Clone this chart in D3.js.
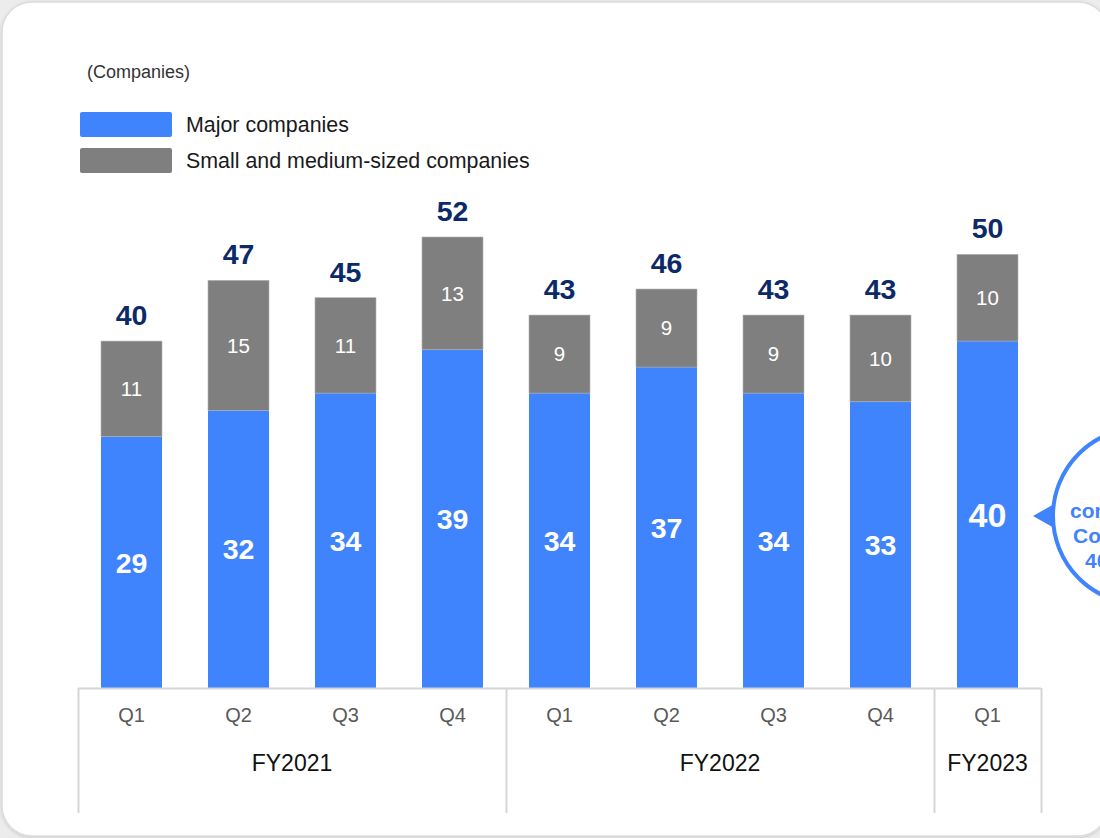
<!DOCTYPE html>
<html>
<head>
<meta charset="utf-8">
<script src="https://cdn.jsdelivr.net/npm/d3@7"></script>
<style>
  html, body { margin: 0; padding: 0; background: #ececec; }
  svg { display: block; font-family: "Liberation Sans", Arial, sans-serif; }
</style>
</head>
<body>
<svg id="chart" width="1100" height="838"></svg>
<script>
// Quarterly counts of companies, split by size
const quarters = ["Q1", "Q2", "Q3", "Q4", "Q1", "Q2", "Q3", "Q4", "Q1"];
const fiscalYears = ["FY2021", "FY2021", "FY2021", "FY2021", "FY2022", "FY2022", "FY2022", "FY2022", "FY2023"];
const majorCompanies = [29, 32, 34, 39, 34, 37, 34, 33, 40];
const smallMediumCompanies = [11, 15, 11, 13, 9, 9, 9, 10, 10];
const totals = [40, 47, 45, 52, 43, 46, 43, 43, 50];
const yearGroups = ["FY2021", "FY2022", "FY2023"];
const seriesNames = ["Major companies", "Small and medium-sized companies"];
const calloutLines = ["companies", "Companies", "40 companies"];

const BLUE = "#3f84fc", GRAY = "#7f7f7f", NAVY = "#0c2a68", AXIS = "#d6d6d6";

const svg = d3.select("#chart");

// card background
const defs = svg.append("defs");
const f = defs.append("filter").attr("id", "shadow").attr("x", "-5%").attr("y", "-5%").attr("width", "110%").attr("height", "110%");
f.append("feDropShadow").attr("dx", 0).attr("dy", 1).attr("stdDeviation", 1.5).attr("flood-color", "#000").attr("flood-opacity", 0.15);
svg.append("rect").attr("x", 2).attr("y", 2).attr("width", 1106).attr("height", 834)
  .attr("rx", 30).attr("fill", "#fff").attr("stroke", "#dcdcdc").attr("stroke-width", 1.5)
  .attr("filter", "url(#shadow)");

const idx = d3.range(quarters.length);
const x = d3.scaleBand().domain(idx).range([78, 1041]).paddingInner(0.43).paddingOuter(0.215);
const y = d3.scaleLinear().domain([0, 52]).range([688, 237]);

// unit label
svg.append("text").attr("x", 87).attr("y", 78).attr("font-size", 18).attr("fill", "#333").text("(Companies)");

// legend
const legend = svg.append("g");
[BLUE, GRAY].forEach((c, i) => {
  legend.append("rect").attr("x", 80).attr("y", 112 + i * 36).attr("width", 92).attr("height", 25)
    .attr("rx", 2).attr("fill", c);
  legend.append("text").attr("x", 186).attr("y", 125 + i * 36).attr("dy", "0.35em")
    .attr("font-size", 21.4).attr("fill", "#1a1a1a").text(seriesNames[i]);
});

// stacked bars
const bars = svg.append("g");
idx.forEach(i => {
  const bx = x(i), bw = x.bandwidth();
  const m = majorCompanies[i], s = smallMediumCompanies[i];
  bars.append("rect").attr("x", bx).attr("width", bw)
    .attr("y", y(m)).attr("height", y(0) - y(m)).attr("fill", BLUE);
  bars.append("rect").attr("x", bx).attr("width", bw)
    .attr("y", y(m + s)).attr("height", y(m) - y(m + s)).attr("fill", GRAY)
    .attr("stroke", "#b0b0b0").attr("stroke-width", 0.6);
  const cx = bx + bw / 2;
  const last = i === quarters.length - 1;
  bars.append("text").attr("x", cx).attr("y", (y(m) + y(0)) / 2).attr("dy", "0.36em")
    .attr("text-anchor", "middle").attr("font-weight", "bold").attr("font-size", last ? 34 : 28.5)
    .attr("fill", "#fff").text(m);
  bars.append("text").attr("x", cx).attr("y", (y(m) + y(m + s)) / 2).attr("dy", "0.36em")
    .attr("text-anchor", "middle").attr("font-size", 20.5).attr("fill", "#fff").text(s);
  bars.append("text").attr("x", cx).attr("y", y(totals[i]) - 16)
    .attr("text-anchor", "middle").attr("font-weight", "bold").attr("font-size", 28.5)
    .attr("fill", NAVY).text(totals[i]);
});

// category axis with fiscal-year groups
const axis = svg.append("g");
const step = x.step();
const x0 = 78;
axis.append("line").attr("x1", x0).attr("x2", x0 + step * quarters.length)
  .attr("y1", 688.5).attr("y2", 688.5).attr("stroke", AXIS).attr("stroke-width", 2);
idx.forEach(i => {
  axis.append("text").attr("x", x(i) + x.bandwidth() / 2).attr("y", 715).attr("dy", "0.35em")
    .attr("text-anchor", "middle").attr("font-size", 20).attr("fill", "#595959").text(quarters[i]);
});
yearGroups.forEach(fy => {
  const members = idx.filter(i => fiscalYears[i] === fy);
  const left = x0 + step * members[0];
  const right = x0 + step * (members[members.length - 1] + 1);
  axis.append("text").attr("x", (left + right) / 2).attr("y", 763).attr("dy", "0.35em")
    .attr("text-anchor", "middle").attr("font-size", 23).attr("fill", "#111").text(fy);
});
const boundaries = [0];
yearGroups.forEach(fy => boundaries.push(d3.max(idx.filter(i => fiscalYears[i] === fy)) + 1));
boundaries.forEach(b => {
  const bx = Math.round(x0 + step * b) + 0.5;
  axis.append("line").attr("x1", bx).attr("x2", bx).attr("y1", 688).attr("y2", 813)
    .attr("stroke", AXIS).attr("stroke-width", 2);
});

// callout bubble beside the latest quarter
const callout = svg.append("g");
const ccx = 1141, ccy = 516, cr = 88;
callout.append("path")
  .attr("d", `M1033,${ccy} L1056,${ccy - 13} L1056,${ccy + 13} Z`).attr("fill", BLUE);
callout.append("circle").attr("cx", ccx).attr("cy", ccy).attr("r", cr)
  .attr("fill", "#fff").attr("stroke", BLUE).attr("stroke-width", 4);
const lineX = [1070, 1073, 1085];
calloutLines.forEach((t, i) => {
  callout.append("text").attr("x", lineX[i]).attr("y", 511 + i * 25).attr("dy", "0.35em")
    .attr("font-size", 21).attr("font-weight", "bold").attr("fill", BLUE).text(t);
});
</script>
</body>
</html>
